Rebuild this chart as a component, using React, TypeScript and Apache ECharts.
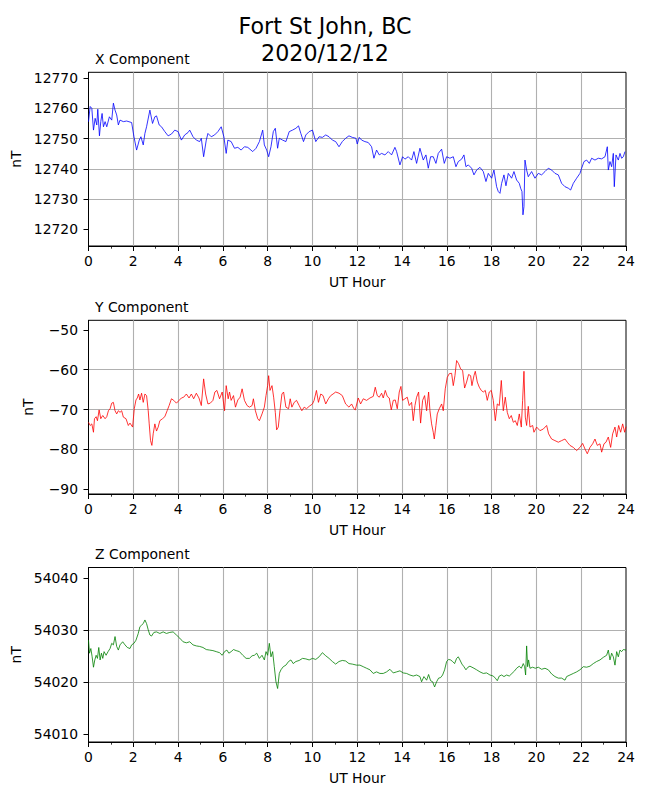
import React, { useEffect, useRef } from "react";
import * as echarts from "echarts";

const FONT = "DejaVu Sans";

const titleText = "Fort St John, BC\n2020/12/12";
const panelTitles = ["X Component", "Y Component", "Z Component"];
const xAxisName = "UT Hour";
const yAxisName = "nT";
const hourTicks = [0, 2, 4, 6, 8, 10, 12, 14, 16, 18, 20, 22, 24];

const xTicks = [12720, 12730, 12740, 12750, 12760, 12770];
const yTicks = [-90, -80, -70, -60, -50];
const zTicks = [54010, 54020, 54030, 54040];

const xRange = [12714.5, 12771.9];
const yRange = [-91.2, -47.6];
const zRange = [54008.5, 54042.1];

const xHours = [
  0.0, 0.074, 0.148, 0.222, 0.296, 0.37, 0.415, 0.489, 0.548, 0.607, 0.667, 0.741, 0.815, 0.933, 1.037, 1.111,
  1.185, 1.259, 1.333, 1.407, 1.556, 1.704, 1.926, 2.03, 2.148, 2.267, 2.341, 2.444, 2.519, 2.593, 2.741, 2.859,
  2.963, 3.037, 3.156, 3.259, 3.407, 3.556, 3.704, 3.852, 4.0, 4.148, 4.296, 4.444, 4.519, 4.667, 4.815, 4.963,
  5.037, 5.141, 5.259, 5.333, 5.481, 5.63, 5.778, 5.926, 6.044, 6.148, 6.222, 6.37, 6.519, 6.667, 6.815, 6.963,
  7.111, 7.333, 7.481, 7.63, 7.778, 7.852, 7.956, 8.044, 8.148, 8.252, 8.341, 8.444, 8.519, 8.667, 8.815, 8.963,
  9.111, 9.259, 9.378, 9.481, 9.6, 9.704, 9.852, 10.0, 10.148, 10.296, 10.444, 10.593, 10.741, 10.889, 11.037,
  11.185, 11.333, 11.481, 11.63, 11.778, 11.94, 12.0, 12.089, 12.194, 12.342, 12.491, 12.64, 12.744, 12.863,
  12.982, 13.087, 13.236, 13.385, 13.533, 13.682, 13.757, 13.906, 14.025, 14.129, 14.278, 14.427, 14.531, 14.65,
  14.799, 14.948, 15.067, 15.171, 15.275, 15.394, 15.513, 15.618, 15.767, 15.886, 15.99, 16.139, 16.288, 16.407,
  16.511, 16.66, 16.764, 16.853, 16.958, 17.106, 17.211, 17.33, 17.479, 17.628, 17.747, 17.851, 18.0, 18.104,
  18.223, 18.297, 18.372, 18.446, 18.551, 18.64, 18.744, 18.893, 18.997, 19.116, 19.235, 19.295, 19.355, 19.399,
  19.444, 19.489, 19.563, 19.637, 19.786, 19.935, 20.084, 20.233, 20.382, 20.531, 20.68, 20.828, 20.977, 21.126,
  21.275, 21.424, 21.528, 21.647, 21.796, 21.945, 22.019, 22.124, 22.243, 22.362, 22.466, 22.615, 22.764, 22.913,
  23.062, 23.166, 23.21, 23.285, 23.359, 23.434, 23.478, 23.553, 23.657, 23.731, 23.806, 23.88, 23.955
];
const xValues = [
  12755.6, 12760.6, 12760.0, 12752.8, 12756.7, 12754.5, 12759.7, 12750.9, 12755.6, 12758.3, 12753.9, 12755.6,
  12753.9, 12757.2, 12756.1, 12761.7, 12759.4, 12757.8, 12754.5, 12756.1, 12755.6, 12755.8, 12755.3, 12750.6,
  12746.2, 12749.5, 12750.6, 12747.9, 12751.7, 12753.9, 12759.4, 12755.0, 12757.2, 12757.5, 12754.5, 12753.9,
  12752.3, 12750.9, 12751.5, 12752.8, 12752.3, 12749.5, 12751.2, 12752.0, 12752.8, 12750.6, 12749.5, 12749.0,
  12750.1, 12744.0, 12749.5, 12751.7, 12750.6, 12751.2, 12752.3, 12753.9, 12750.6, 12745.1, 12749.5, 12749.0,
  12746.8, 12747.1, 12746.2, 12747.3, 12747.1, 12745.7, 12746.8, 12749.0, 12752.8, 12747.9, 12746.2, 12744.0,
  12747.3, 12752.3, 12753.4, 12746.8, 12750.1, 12749.5, 12749.0, 12752.3, 12752.8, 12753.4, 12754.2, 12751.7,
  12749.0, 12751.2, 12752.3, 12752.8, 12749.0, 12750.6, 12750.4, 12751.2, 12750.6, 12749.5, 12749.0, 12747.3,
  12749.0, 12750.1, 12750.9, 12750.4, 12750.1, 12748.2, 12750.4, 12749.5, 12749.0, 12748.7, 12747.3, 12743.5,
  12746.2, 12744.6, 12745.1, 12744.6, 12745.7, 12744.6, 12747.1, 12745.7, 12741.3, 12744.0, 12743.2, 12744.0,
  12742.9, 12745.7, 12741.8, 12746.8, 12742.9, 12744.6, 12740.2, 12744.0, 12744.0, 12741.8, 12745.1, 12746.5,
  12741.8, 12744.0, 12743.5, 12744.0, 12740.7, 12742.4, 12743.2, 12744.6, 12740.7, 12741.3, 12740.2, 12738.0,
  12739.6, 12740.5, 12739.1, 12735.8, 12738.5, 12736.9, 12739.6, 12734.1, 12732.5, 12731.9, 12735.2, 12738.0,
  12734.4, 12738.5, 12736.9, 12739.1, 12736.3, 12735.2, 12733.6, 12732.5, 12724.8, 12727.5, 12742.9, 12739.6,
  12737.4, 12739.1, 12736.9, 12738.5, 12738.0, 12739.1, 12740.2, 12739.6, 12738.5, 12738.0, 12735.2, 12734.1,
  12733.6, 12733.0, 12735.2, 12736.9, 12738.5, 12740.2, 12742.4, 12742.9, 12741.8, 12743.5, 12742.9, 12743.5,
  12743.3, 12744.0, 12747.3, 12739.6, 12742.4, 12740.7, 12745.1, 12734.1, 12744.6, 12742.9, 12745.1, 12743.5,
  12744.0, 12745.7
];

const yHours = [
  0.0, 0.074, 0.148, 0.222, 0.267, 0.341, 0.4, 0.474, 0.548, 0.637, 0.741, 0.815, 0.889, 0.963, 1.037, 1.111,
  1.185, 1.259, 1.333, 1.407, 1.481, 1.556, 1.674, 1.778, 1.852, 1.97, 2.044, 2.119, 2.178, 2.237, 2.296, 2.37,
  2.444, 2.519, 2.593, 2.667, 2.711, 2.77, 2.83, 2.889, 2.963, 3.037, 3.111, 3.185, 3.304, 3.407, 3.511, 3.6,
  3.704, 3.807, 3.926, 4.044, 4.148, 4.252, 4.37, 4.489, 4.593, 4.696, 4.815, 4.933, 5.037, 5.141, 5.23, 5.333,
  5.437, 5.556, 5.644, 5.733, 5.852, 5.97, 6.074, 6.148, 6.237, 6.296, 6.37, 6.474, 6.563, 6.667, 6.77, 6.859,
  6.963, 7.081, 7.185, 7.304, 7.363, 7.452, 7.556, 7.63, 7.748, 7.852, 7.926, 8.0, 8.044, 8.104, 8.193, 8.267,
  8.341, 8.4, 8.474, 8.548, 8.637, 8.711, 8.815, 8.933, 9.007, 9.081, 9.185, 9.289, 9.407, 9.526, 9.63, 9.733,
  9.852, 10.0, 10.074, 10.178, 10.267, 10.37, 10.474, 10.593, 10.711, 10.815, 10.919, 11.037, 11.185, 11.333,
  11.481, 11.63, 11.748, 11.852, 11.911, 12.045, 12.149, 12.268, 12.417, 12.566, 12.715, 12.804, 12.893, 12.983,
  13.087, 13.161, 13.251, 13.34, 13.429, 13.519, 13.608, 13.697, 13.787, 13.876, 13.95, 14.025, 14.129, 14.233,
  14.322, 14.427, 14.501, 14.576, 14.65, 14.739, 14.829, 14.918, 15.007, 15.097, 15.186, 15.246, 15.32, 15.394,
  15.439, 15.513, 15.573, 15.662, 15.767, 15.841, 15.93, 16.02, 16.109, 16.213, 16.288, 16.362, 16.437, 16.526,
  16.615, 16.705, 16.794, 16.883, 16.973, 17.062, 17.121, 17.211, 17.27, 17.36, 17.449, 17.538, 17.628, 17.717,
  17.806, 17.896, 17.985, 18.074, 18.164, 18.253, 18.342, 18.432, 18.521, 18.61, 18.699, 18.789, 18.878, 18.967,
  19.057, 19.146, 19.235, 19.325, 19.384, 19.444, 19.504, 19.563, 19.637, 19.712, 19.831, 19.89, 20.01, 20.158,
  20.307, 20.456, 20.545, 20.679, 20.828, 20.977, 21.126, 21.275, 21.379, 21.498, 21.647, 21.796, 21.945, 22.064,
  22.168, 22.272, 22.392, 22.511, 22.615, 22.719, 22.838, 22.913, 23.017, 23.106, 23.21, 23.315, 23.404, 23.508,
  23.583, 23.672, 23.761, 23.851, 23.94, 24.0
];
const yValues = [
  -73.2, -74.0, -73.6, -75.7, -72.3, -71.8, -72.8, -70.1, -72.3, -71.5, -72.3, -71.8, -70.3, -69.8, -68.4, -68.2,
  -70.3, -71.1, -70.3, -70.7, -70.3, -71.9, -72.3, -74.0, -73.4, -74.4, -69.8, -67.6, -67.1, -66.1, -67.6, -65.9,
  -68.2, -66.1, -66.5, -70.3, -73.6, -77.8, -79.0, -76.1, -73.6, -75.4, -74.4, -72.8, -72.3, -71.8, -70.3, -69.0,
  -67.3, -67.7, -68.4, -67.7, -67.1, -66.9, -66.1, -67.1, -66.1, -67.3, -65.9, -67.1, -69.0, -62.3, -66.1, -68.6,
  -68.4, -67.7, -65.6, -65.2, -67.3, -65.6, -70.3, -64.0, -67.3, -65.6, -67.7, -66.5, -69.4, -67.6, -66.9, -64.8,
  -67.7, -69.0, -69.4, -69.0, -67.3, -70.3, -72.3, -72.8, -71.1, -69.4, -66.5, -64.0, -61.5, -65.2, -64.0, -66.9,
  -70.7, -75.1, -74.4, -70.3, -66.1, -65.6, -69.4, -69.8, -67.3, -69.4, -68.2, -67.7, -69.0, -70.3, -69.4, -69.8,
  -69.2, -68.6, -67.7, -65.2, -68.2, -66.1, -66.5, -68.6, -67.3, -66.5, -66.1, -65.6, -65.9, -66.5,
  -68.6, -69.4, -68.6, -69.8, -70.1, -67.1, -68.6, -67.3, -67.7, -67.1, -66.7, -64.4, -66.5, -66.9,
  -65.9, -67.1, -65.2, -66.7, -67.1, -70.1, -67.7, -67.6, -69.8, -65.6, -64.2, -67.7, -67.3, -66.9,
  -69.0, -68.2, -72.8, -69.0, -66.9, -65.6, -73.4, -67.7, -66.5, -70.3, -65.6, -70.3, -73.6, -75.7,
  -77.4, -74.0, -71.1, -69.8, -68.6, -70.3, -64.8, -61.9, -61.0, -60.9, -64.0, -61.5, -57.7, -58.5,
  -59.8, -60.2, -64.6, -63.1, -61.2, -61.5, -64.0, -61.5, -60.4, -63.1, -64.4, -65.2, -65.6, -65.2,
  -67.7, -65.6, -65.2, -67.7, -72.8, -68.6, -69.0, -62.7, -70.3, -66.9, -70.7, -72.3, -71.5, -73.2,
  -72.8, -74.0, -71.1, -74.4, -67.7, -60.4, -71.9, -74.0, -69.2, -74.4, -74.0, -75.7, -74.4, -75.3,
  -74.9, -74.0, -76.1, -77.4, -77.8, -78.2, -77.8, -77.4, -78.2, -79.0, -79.5, -80.3, -79.5, -78.5,
  -79.9, -81.1, -79.5, -78.6, -77.4, -79.0, -78.6, -80.7, -78.6, -78.2, -76.9, -79.5, -76.1, -74.4,
  -76.9, -74.0, -75.7, -73.6, -75.7, -74.3
];

const zHours = [
  0.0, 0.044, 0.104, 0.163, 0.222, 0.281, 0.341, 0.4, 0.459, 0.519, 0.578, 0.637, 0.696, 0.785, 0.874, 0.963,
  1.037, 1.111, 1.185, 1.259, 1.333, 1.407, 1.526, 1.63, 1.733, 1.852, 1.926, 2.03, 2.119, 2.222, 2.296, 2.37,
  2.444, 2.519, 2.593, 2.667, 2.741, 2.815, 2.919, 3.037, 3.185, 3.333, 3.481, 3.63, 3.778, 3.926, 4.074, 4.222,
  4.37, 4.519, 4.667, 4.815, 4.963, 5.111, 5.259, 5.407, 5.556, 5.704, 5.852, 5.97, 6.074, 6.178, 6.267, 6.37,
  6.474, 6.593, 6.741, 6.889, 7.037, 7.185, 7.304, 7.407, 7.511, 7.63, 7.748, 7.852, 7.926, 8.0, 8.074, 8.148,
  8.222, 8.296, 8.37, 8.444, 8.519, 8.593, 8.696, 8.815, 8.933, 9.037, 9.141, 9.259, 9.407, 9.556, 9.704, 9.852,
  10.0, 10.148, 10.296, 10.444, 10.593, 10.741, 10.889, 11.037, 11.185, 11.333, 11.481, 11.63, 11.778, 11.97,
  12.119, 12.268, 12.417, 12.566, 12.715, 12.863, 13.012, 13.161, 13.31, 13.459, 13.608, 13.757, 13.906, 14.055,
  14.203, 14.352, 14.501, 14.65, 14.799, 14.873, 14.978, 15.097, 15.186, 15.275, 15.365, 15.454, 15.543, 15.633,
  15.722, 15.811, 15.901, 15.99, 16.079, 16.169, 16.258, 16.347, 16.437, 16.511, 16.585, 16.675, 16.764, 16.853,
  16.943, 17.032, 17.121, 17.211, 17.33, 17.479, 17.628, 17.776, 17.925, 18.074, 18.164, 18.253, 18.342, 18.446,
  18.551, 18.67, 18.789, 18.908, 19.027, 19.116, 19.235, 19.325, 19.414, 19.474, 19.518, 19.563, 19.608, 19.652,
  19.712, 19.831, 19.95, 20.084, 20.233, 20.382, 20.531, 20.68, 20.828, 20.977, 21.126, 21.275, 21.349, 21.498,
  21.647, 21.796, 21.945, 22.094, 22.243, 22.392, 22.54, 22.689, 22.838, 22.987, 23.136, 23.21, 23.285, 23.359,
  23.434, 23.508, 23.583, 23.657, 23.731, 23.806, 23.88, 24.0
];
const zValues = [
  54028.1, 54025.6, 54026.5, 54024.9, 54022.9, 54024.3, 54025.2, 54024.6, 54026.7, 54024.3, 54025.6, 54024.6,
  54025.9, 54025.2, 54025.9, 54026.5, 54027.5, 54027.2, 54028.8, 54026.9, 54026.2, 54027.2, 54027.8, 54027.2,
  54026.7, 54026.5, 54027.2, 54027.5, 54028.1, 54029.4, 54030.7, 54031.0, 54031.3, 54032.0, 54031.3, 54030.1,
  54029.1, 54028.9, 54029.6, 54029.7, 54029.4, 54029.7, 54029.4, 54029.6, 54029.7, 54029.1, 54028.5, 54027.8,
  54027.6, 54027.8, 54027.2, 54027.0, 54026.9, 54026.7, 54026.3, 54026.2, 54026.1, 54025.9, 54025.7, 54025.2,
  54025.9, 54026.2, 54025.6, 54025.9, 54026.3, 54026.1, 54025.9, 54025.2, 54024.6, 54024.6, 54025.1, 54025.2,
  54025.6, 54024.6, 54025.2, 54024.3, 54025.9, 54025.2, 54027.5, 54024.9, 54025.9, 54023.0, 54020.1, 54018.8,
  54021.7, 54022.4, 54023.0, 54023.3, 54024.0, 54024.3, 54023.6, 54024.0, 54024.2, 54024.6, 54024.5, 54024.3,
  54024.6, 54024.4, 54024.9, 54025.7, 54025.1, 54024.6, 54024.0, 54023.5, 54024.0, 54024.2, 54024.1, 54023.6,
  54023.5, 54023.3, 54023.3, 54023.0, 54022.7, 54022.4, 54021.7, 54022.0, 54021.7, 54021.7, 54022.0, 54022.5,
  54021.8, 54022.0, 54022.2, 54021.8, 54021.7, 54021.4, 54021.2, 54021.4, 54021.1, 54020.1, 54021.1, 54020.4,
  54021.5, 54020.3, 54020.1, 54019.1, 54020.1, 54020.8, 54020.9, 54021.4, 54022.4, 54024.0, 54024.4, 54024.3,
  54024.0, 54023.6, 54024.6, 54024.9, 54024.3, 54023.5, 54023.0, 54022.4, 54022.9, 54023.1, 54022.9, 54022.7,
  54022.4, 54022.0, 54021.7, 54021.8, 54021.4, 54021.2, 54020.8, 54020.3, 54021.2, 54021.4, 54021.1, 54021.4,
  54021.2, 54021.7, 54022.2, 54022.7, 54023.1, 54022.7, 54023.6, 54023.0, 54021.4, 54027.0, 54023.0, 54024.3,
  54022.7, 54022.9, 54022.7, 54022.9, 54022.5, 54022.7, 54022.4, 54021.6, 54021.1, 54020.8, 54020.8, 54020.4,
  54021.1, 54021.4, 54021.7, 54022.0, 54022.4, 54023.0, 54022.9, 54023.1, 54023.6, 54024.0, 54024.3, 54024.8,
  54025.2, 54026.2, 54024.3, 54025.6, 54024.9, 54023.3, 54025.9, 54024.9, 54026.2, 54025.9, 54026.3, 54026.2
];

const panels = [
  { title: panelTitles[0], hours: xHours, values: xValues, ticks: xTicks, range: xRange, color: "#0000ff" },
  { title: panelTitles[1], hours: yHours, values: yValues, ticks: yTicks, range: yRange, color: "#ff0000" },
  { title: panelTitles[2], hours: zHours, values: zValues, ticks: zTicks, range: zRange, color: "#008000" },
];

const gridTops = [72.3, 320.3, 567.5];
const gridHeights = [173.7, 173.7, 174.5];

const fmt = (v: number) => String(v).replace("-", "\u2212");

export default function App() {
  const ref = useRef<HTMLDivElement>(null);
  useEffect(() => {
    document.body.style.margin = "0";
    if (!ref.current) return;
    const chart = echarts.init(ref.current, null, { renderer: "svg" });
    const textBase = { fontFamily: FONT, color: "#000", fontSize: 13.9 };
    const option: any = {
      animation: false,
      backgroundColor: "#fff",
      title: [
        {
          text: titleText,
          left: "center",
          top: 12,
          padding: 0,
          textStyle: { fontFamily: FONT, fontSize: 22.2, lineHeight: 27, fontWeight: "normal", color: "#000" },
        },
        ...panels.map((p, i) => ({
          text: p.title,
          left: 95,
          top: gridTops[i] - 13.6 - 7,
          padding: 0,
          textStyle: { ...textBase, lineHeight: 14, fontWeight: "normal" },
        })),
      ],
      grid: panels.map((_, i) => ({
        left: 88.5,
        right: 24,
        top: gridTops[i],
        height: gridHeights[i],
        show: true,
        borderColor: "#000",
        borderWidth: 1,
        backgroundColor: "transparent",
        containLabel: false,
        outerBoundsMode: "none",
      })),
      xAxis: panels.map((_, i) => ({
        type: "value",
        gridIndex: i,
        min: 0,
        max: 24,
        interval: 2,
        name: xAxisName,
        nameLocation: "middle",
        nameGap: 29,
        nameTextStyle: textBase,
        axisLine: { show: true, onZero: false, lineStyle: { color: "#000", width: 1 } },
        axisTick: { show: true, length: 5, lineStyle: { color: "#000", width: 1 }, customValues: hourTicks },
        minorTick: { show: true, splitNumber: 2, length: 2.7, lineStyle: { color: "#000", width: 0.8 } },
        axisLabel: { ...textBase, margin: 8, customValues: hourTicks },
        splitLine: { show: true, showMinLine: false, showMaxLine: false, lineStyle: { color: "#b0b0b0", width: 1.1 } },
      })),
      yAxis: panels.map((p, i) => ({
        type: "value",
        gridIndex: i,
        min: p.range[0],
        max: p.range[1],
        splitNumber: i === 2 ? 3 : 5,
        name: yAxisName,
        nameLocation: "middle",
        nameGap: 54,
        nameTextStyle: textBase,
        axisLine: { show: true, onZero: false, lineStyle: { color: "#000", width: 1 } },
        axisTick: { show: true, length: 5, lineStyle: { color: "#000", width: 1 }, customValues: p.ticks },
        axisLabel: { ...textBase, margin: 10.5, formatter: fmt, customValues: p.ticks, showMinLabel: true, showMaxLabel: true },
        splitLine: { show: true, showMinLine: false, showMaxLine: false, lineStyle: { color: "#b0b0b0", width: 1.1 } },
      })),
      series: panels.map((p, i) => ({
        type: "line",
        xAxisIndex: i,
        yAxisIndex: i,
        showSymbol: false,
        symbol: "none",
        data: p.hours.map((h, k) => [h, p.values[k]]),
        lineStyle: { color: p.color, width: 0.8 },
        itemStyle: { color: p.color },
        clip: true,
      })),
    };
    chart.setOption(option);
    return () => chart.dispose();
  }, []);
  return <div ref={ref} style={{ width: 650, height: 800 }} />;
}
